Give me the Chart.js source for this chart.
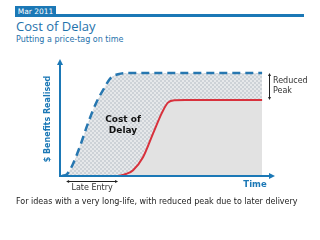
<!DOCTYPE html>
<html>
<head>
<meta charset="utf-8">
<script src="https://cdn.jsdelivr.net/npm/chart.js@4"></script>
<style>
  html, body { margin: 0; padding: 0; background: #fff; }
  body { width: 320px; height: 240px; position: relative; overflow: hidden; font-family: "DejaVu Sans", sans-serif; }
  #tag { position: absolute; left: 15px; top: 6px; width: 41px; height: 11px; background: #1b78b6; color: #fff; font-size: 7.5px; line-height: 11px; text-align: center; }
  #bar { position: absolute; left: 56px; top: 14px; width: 248px; height: 3px; background: #1b78b6; }
  #title { position: absolute; left: 16px; top: 18px; font-family: "Open Sans", sans-serif; font-size: 13px; line-height: 17px; color: #1f72ab; white-space: nowrap; }
  #sub { position: absolute; left: 16px; top: 35px; font-size: 8px; color: #1f72ab; white-space: nowrap; }
  #caption { position: absolute; left: 16px; top: 197px; font-size: 8px; color: #222; white-space: nowrap; }
  canvas { position: absolute; left: 0; top: 0; }
</style>
</head>
<body>
<div id="tag">Mar 2011</div>
<div id="bar"></div>
<div id="title">Cost of Delay</div>
<div id="sub">Putting a price-tag on time</div>
<canvas id="chart" width="320" height="240"></canvas>
<div id="caption">For ideas with a very long-life, with reduced peak due to later delivery</div>
<script>
// on-time delivery (dashed blue) - time vs benefit
const earlyX = [1, 3.3, 5.6, 9.3, 13, 16.7, 20.5, 23.7, 27, 31.6, 94]
const earlyY = [0, 1.7, 8.5, 25.4, 45, 62, 75, 84, 87, 88, 88]

// late delivery (red), reduced peak
const lateX = [27, 30.7, 34, 38.6, 43.3, 47.4, 50.2, 53.5, 58, 94]
const lateY = [0, 1.7, 5, 16, 36.4, 54, 62.7, 64.8, 65, 65]

const axisLabels = { y: "$ Benefits Realised", x: "Time" }
const notes = { area: ["Cost of", "Delay"], peak: ["Reduced", "Peak"], entry: "Late Entry" }

const blue = "#1b78b6"

// checker pattern for the cost-of-delay area
const pc = document.createElement("canvas")
pc.width = 4; pc.height = 4
const px = pc.getContext("2d")
px.fillStyle = "#e6e8ea"; px.fillRect(0, 0, 4, 4)
px.fillStyle = "#cdd2d7"; px.fillRect(0, 0, 2, 2); px.fillRect(2, 2, 2, 2)

const toPts = (xs, ys) => xs.map((x, i) => ({ x: x, y: ys[i] }))

const arrowHead = (ctx, x, y, dir, size) => {
  ctx.beginPath()
  if (dir == "up") { ctx.moveTo(x, y); ctx.lineTo(x - size / 2, y + size); ctx.lineTo(x + size / 2, y + size) }
  if (dir == "right") { ctx.moveTo(x, y); ctx.lineTo(x - size, y - size / 2); ctx.lineTo(x - size, y + size / 2) }
  if (dir == "left") { ctx.moveTo(x, y); ctx.lineTo(x + size, y - size / 2); ctx.lineTo(x + size, y + size / 2) }
  if (dir == "down") { ctx.moveTo(x, y); ctx.lineTo(x - size / 2, y - size); ctx.lineTo(x + size / 2, y - size) }
  ctx.closePath()
  ctx.fill()
}

const extras = {
  id: "extras",
  afterDatasetsDraw(chart) {
    const ctx = chart.ctx
    const a = chart.chartArea
    const sx = chart.scales.x, sy = chart.scales.y
    ctx.save()
    // axes with arrows
    ctx.strokeStyle = blue; ctx.fillStyle = blue; ctx.lineWidth = 2
    ctx.beginPath()
    ctx.moveTo(a.left, a.top + 4); ctx.lineTo(a.left, a.bottom); ctx.lineTo(a.right - 4, a.bottom)
    ctx.stroke()
    arrowHead(ctx, a.left, a.top, "up", 6)
    arrowHead(ctx, a.right, a.bottom, "right", 6)

    // axis titles
    ctx.font = "bold 8.5px 'DejaVu Sans'"
    ctx.textAlign = "center"; ctx.textBaseline = "middle"
    ctx.fillText(axisLabels.x, 255, a.bottom + 9)
    ctx.save()
    ctx.font = "bold 8px 'DejaVu Sans'"
    ctx.translate(a.left - 12, 119)
    ctx.rotate(-Math.PI / 2)
    ctx.fillText(axisLabels.y, 0, 0)
    ctx.restore()

    // Cost of Delay label
    ctx.fillStyle = "#111"
    ctx.font = "bold 9px 'DejaVu Sans'"
    ctx.fillText(notes.area[0], 123, 120)
    ctx.fillText(notes.area[1], 123, 131)

    // Reduced peak bracket
    const bx = 269
    const yTop = sy.getPixelForValue(earlyY[earlyY.length - 1])
    const yBot = sy.getPixelForValue(lateY[lateY.length - 1])
    ctx.strokeStyle = "#222"; ctx.fillStyle = "#222"; ctx.lineWidth = 1
    ctx.beginPath(); ctx.moveTo(bx + 0.5, yTop + 2); ctx.lineTo(bx + 0.5, yBot - 2); ctx.stroke()
    arrowHead(ctx, bx + 0.5, yTop, "up", 3)
    arrowHead(ctx, bx + 0.5, yBot, "down", 3)
    ctx.font = "8px 'DejaVu Sans'"
    ctx.textAlign = "left"
    ctx.fillStyle = "#333"
    ctx.fillText(notes.peak[0], 273, 81)
    ctx.fillText(notes.peak[1], 273, 91)

    // Late entry bracket
    const x0 = sx.getPixelForValue(earlyX[0]) + 4
    const x1 = sx.getPixelForValue(lateX[0])
    const by = a.bottom + 5.5
    ctx.fillStyle = "#222"
    ctx.beginPath(); ctx.moveTo(x0 + 2, by); ctx.lineTo(x1 - 2, by); ctx.stroke()
    arrowHead(ctx, x0, by, "left", 3)
    arrowHead(ctx, x1, by, "right", 3)
    ctx.textAlign = "center"
    ctx.fillStyle = "#333"
    ctx.fillText(notes.entry, (x0 + x1) / 2, by + 6.5)
    ctx.restore()
  }
}

new Chart(document.getElementById("chart").getContext("2d"), {
  type: "line",
  data: {
    datasets: [
      {
        data: toPts(lateX, lateY),
        borderColor: "#d8313c",
        borderWidth: 2,
        backgroundColor: "#e2e2e2",
        fill: "origin",
        pointRadius: 0,
        cubicInterpolationMode: "monotone",
      },
      {
        data: toPts(earlyX, earlyY),
        borderColor: "#2777b0",
        borderWidth: 2.5,
        borderDash: [8, 5],
        backgroundColor: px.createPattern(pc, "repeat"),
        fill: "origin",
        pointRadius: 0,
        cubicInterpolationMode: "monotone",
      },
    ],
  },
  options: {
    responsive: false,
    animation: false,
    layout: { padding: { left: 60, right: 45, top: 59, bottom: 64 } },
    scales: {
      x: { type: "linear", min: 0, max: 100, display: false },
      y: { min: 0, max: 100, display: false },
    },
    plugins: {
      legend: { display: false },
      tooltip: { enabled: false },
    },
  },
  plugins: [extras],
})
</script>
</body>
</html>
